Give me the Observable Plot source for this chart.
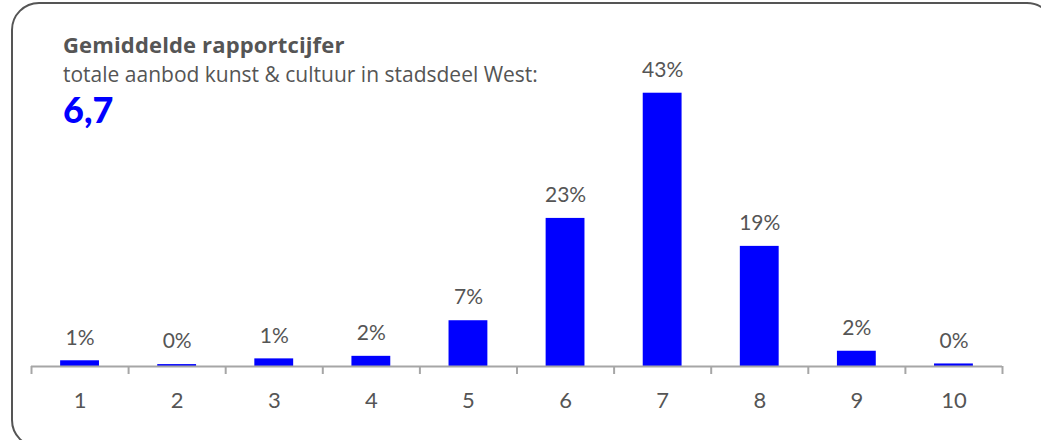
<!DOCTYPE html>
<html><head><meta charset="utf-8">
<script src="https://cdn.jsdelivr.net/npm/d3@7"></script>
<script src="https://cdn.jsdelivr.net/npm/@observablehq/plot@0.6"></script>
<style>
html,body{margin:0;padding:0;background:#fff;overflow:hidden;width:1041px;height:440px;}
#wrap{position:relative;width:1041px;height:440px;overflow:hidden;font-family:Lato,sans-serif;}
#frame{position:absolute;left:11px;top:2px;width:1044px;height:446px;border:2px solid #555;border-radius:28px;box-sizing:border-box;}
#chart{position:absolute;left:0;top:0;}
.t{position:absolute;left:63px;color:#555;white-space:nowrap;line-height:1;}
</style></head><body>
<div id="wrap">
<div id="frame"></div>
<div id="chart"></div>
<div class="t" id="title" style="top:33px;font-size:22px;letter-spacing:0.15px;font-weight:bold;font-family:'Open Sans',sans-serif;"></div>
<div class="t" id="sub" style="top:63.5px;font-size:21px;font-family:'Open Sans',sans-serif;"></div>
<div class="t" id="avg" style="top:91px;font-size:36px;font-weight:900;color:#0000ff;"></div>
</div>
<script>
const titleText = "Gemiddelde rapportcijfer";
const subtitleText = "totale aanbod kunst & cultuur in stadsdeel West:";
const averageText = "6,7";
const grades = ["1","2","3","4","5","6","7","8","9","10"];
const shares = [0.9, 0.3, 1.2, 1.6, 7.2, 23.3, 43.0, 18.9, 2.4, 0.4];

document.getElementById("title").textContent = titleText;
document.getElementById("sub").textContent = subtitleText;
document.getElementById("avg").textContent = averageText;

const table = grades.map((g, i) => ({grade: g, share: shares[i], label: Math.round(shares[i]) + "%"}));
const step = (1041 - 31 - 39) / grades.length;
const grey = "#555";
const axisGrey = "#a6a6a6";

const chart = Plot.plot({
  width: 1041, height: 440,
  marginLeft: 31, marginRight: 39, marginTop: 80, marginBottom: 74,
  x: {domain: grades, paddingInner: 0.6, paddingOuter: 0.3, round: false, label: null},
  y: {domain: [0, 45], axis: null},
  style: {fontFamily: "Lato, sans-serif", background: "transparent", overflow: "visible"},
  marks: [
    Plot.barY(table, {x: "grade", y: "share", fill: "#0000ff"}),
    Plot.ruleY([0], {stroke: axisGrey, strokeWidth: 2}),
    Plot.ruleX(table, {x: "grade", y1: 0, y2: 0, dx: -step / 2, insetBottom: -8, stroke: axisGrey, strokeWidth: 2}),
    Plot.ruleX(table.slice(-1), {x: "grade", y1: 0, y2: 0, dx: step / 2, insetBottom: -8, stroke: axisGrey, strokeWidth: 2}),
    Plot.text(table, {x: "grade", y: "share", text: "label", dy: -23, fontSize: 21, fill: grey}),
    Plot.axisX({tickSize: 0, tickPadding: 26, fontSize: 22, fill: grey, label: null})
  ]
});
document.getElementById("chart").appendChild(chart);
</script>
</body></html>
